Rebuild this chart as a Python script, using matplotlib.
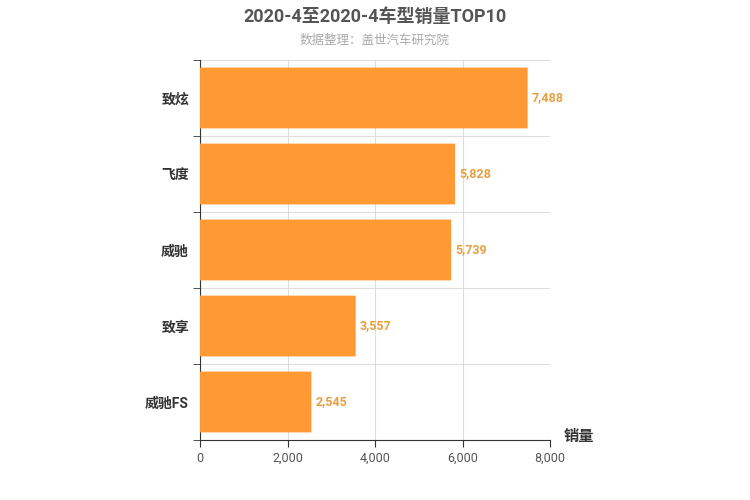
import matplotlib
matplotlib.use("Agg")
import matplotlib.pyplot as plt
from matplotlib.patches import FancyBboxPatch

plt.rcParams["font.family"] = ["Roboto", "Noto Sans CJK SC"]

categories = ["致炫", "飞度", "威驰", "致享", "威驰FS"]
values = [7488, 5828, 5739, 3557, 2545]
xticks = [0, 2000, 4000, 6000, 8000]

fig = plt.figure(figsize=(7.5, 5), dpi=100)
ax = fig.add_axes([0.2667, 0.12, 0.4667, 0.76])
n = len(categories)
ys = list(range(n))[::-1]
bars = ax.barh(ys, values, height=0.8, color="none")
for b in bars:
    x, y, w, h = b.get_x(), b.get_y(), b.get_width(), b.get_height()
    ax.add_patch(FancyBboxPatch((x, y), w, h, boxstyle="round,pad=0,rounding_size=0.1",
                                mutation_aspect=1 / 0.0045 * 0.0045 if False else 1,
                                fc="#ff9933", ec="none", zorder=3))
for y, v in zip(ys, values):
    ax.text(v + 100, y, f"{v:,}", va="center", ha="left", color="#e8a040",
            fontsize=9, fontweight="bold")
ax.set_xlim(0, 8000)
ax.set_ylim(-0.5, n - 0.5)
ax.set_xticks(xticks)
ax.set_xticklabels([f"{t:,}" for t in xticks], fontsize=9, color="#555")
ax.set_yticks(ys)
ax.set_yticklabels(categories, fontsize=10, color="#333", fontweight="bold")
ax.set_yticks([i - 0.5 for i in range(n + 1)], minor=True)
ax.tick_params(axis="y", which="major", length=0, pad=8)
ax.tick_params(axis="y", which="minor", length=5, color="#333")
ax.tick_params(axis="x", length=5, color="#333")
ax.grid(axis="x", color="#ddd", lw=0.8, zorder=0)
ax.grid(axis="y", which="minor", color="#ddd", lw=0.8, zorder=0)
for s in ["top", "right"]:
    ax.spines[s].set_visible(False)
ax.spines["left"].set_color("#333")
ax.spines["bottom"].set_color("#333")
ax.text(1.04, -0.01, "销量", transform=ax.transAxes, fontsize=11, fontweight="bold",
        color="#333", ha="left", va="bottom")
fig.text(0.5, 0.965, "2020-4至2020-4车型销量TOP10", ha="center", va="center",
         fontsize=13, fontweight="bold", color="#555")
fig.text(0.5, 0.92, "数据整理：盖世汽车研究院", ha="center", va="center",
         fontsize=9, color="#aaa")
fig.savefig("out.png", dpi=100)
